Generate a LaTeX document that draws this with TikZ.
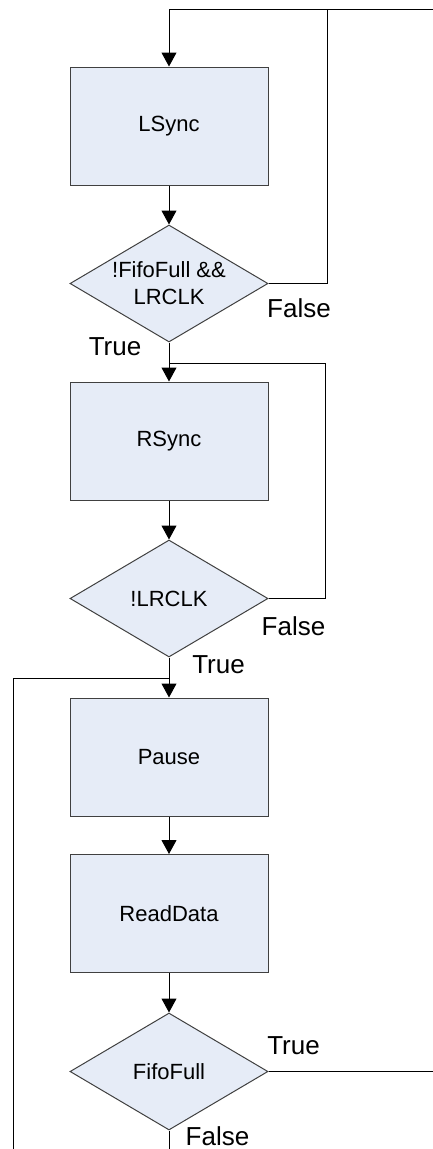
\documentclass[tikz,border=0pt]{standalone}
\usepackage{fontspec}
\setmainfont{Liberation Sans}
\usetikzlibrary{shapes.geometric,arrows.meta}
\definecolor{boxfill}{RGB}{230,236,247}
\definecolor{boxline}{RGB}{64,64,64}

\begin{document}
\begin{tikzpicture}[x=1pt,y=-1pt,
  stepbox/.style={draw=boxline,fill=boxfill,line width=1pt,
    minimum width=198pt,minimum height=118pt,inner sep=0pt,
    font=\fontsize{22}{27}\selectfont},
  decision/.style={diamond,draw=boxline,fill=boxfill,line width=1pt,
    minimum width=198pt,minimum height=117pt,inner sep=0pt},
  dtext/.style={font=\fontsize{22}{27}\selectfont,align=center,inner sep=0pt},
  flow/.style={line width=1pt,-{Triangle[length=14pt,width=15pt]}},
  wire/.style={line width=1pt},
  tag/.style={font=\fontsize{26}{30}\selectfont,inner sep=0pt}]

\useasboundingbox (0,0) rectangle (433,1149);

% process boxes and decisions
\node[stepbox] (lsync) at (169,126) {LSync};
\node[decision] (d1) at (169,283.5) {};
\node[dtext] (d1t) at (d1) {!FifoFull \&\&\\LRCLK};
\node[stepbox] (rsync) at (169,441) {RSync};
\node[decision] (d2) at (169,598.5) {};
\node[dtext] (d2t) at (d2) {!LRCLK};
\node[stepbox] (pause) at (169,757) {Pause};
\node[stepbox] (read) at (169,913.5) {ReadData};
\node[decision] (d3) at (169,1071.5) {};
\node[dtext] (d3t) at (d3) {FifoFull};

% routing points
\coordinate (topR) at (433,9);
\coordinate (topJ) at (327,9);
\coordinate (topL) at (169,9);
\coordinate (r1) at (325,363);
\coordinate (l1) at (13,678);
\coordinate (l0) at (13,1149);
\coordinate (e3) at (433,1071.5);
\coordinate (s3) at (169,1149);

% outer loop back to LSync
\draw[flow] (topR) -- (topL) -- (lsync.north);
\draw[wire] (d1.east) -- (d1.east -| topJ) -- (topJ);
\draw[flow] (lsync) -- (d1);
\draw[flow] (d1.south) -- (rsync.north);

% loop back to RSync
\draw[wire] (d2.east) -- (d2.east -| r1) -- (r1) -- (r1 -| rsync.north);
\draw[flow] (rsync) -- (d2);
\draw[flow] (d2.south) -- (pause.north);

% read loop
\draw[wire] (l0) -- (l1) -- (l1 -| pause.north);
\draw[flow] (pause) -- (read);
\draw[flow] (read) -- (d3);
\draw[wire] (d3.east) -- (e3);
\draw[wire] (d3.south) -- (s3);

% branch labels
\node[tag] (f1) at (299,308) {False};
\node[tag] (t1) at (115,347) {True};
\node[tag] (f2) at (293.5,626) {False};
\node[tag] (t2) at (218.5,665) {True};
\node[tag] (t3) at (293.5,1046) {True};
\node[tag] (f3) at (217.5,1136) {False};
\end{tikzpicture}
\end{document}
